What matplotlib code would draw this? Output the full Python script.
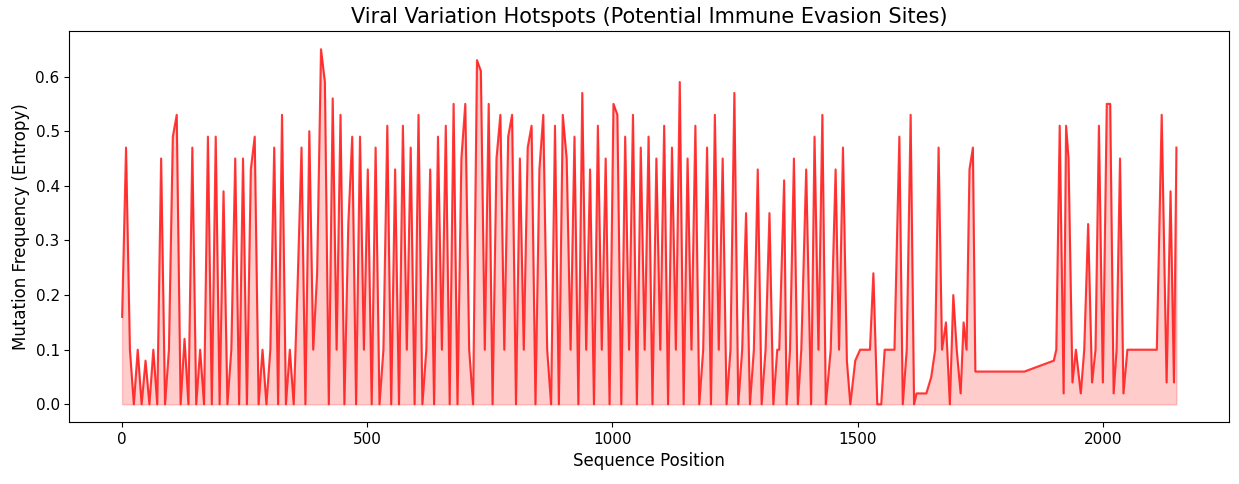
import numpy as np
import matplotlib
matplotlib.use("Agg")
import matplotlib.pyplot as plt

dense_vals = [0.16,0.47,0.1,0.0,0.1,0.0,0.08,0.0,0.1,0.0,0.45,0.0,0.1,0.49,0.53,0.0,0.12,0.0,0.47,0.0,
0.1,0.0,0.49,0.0,0.49,0.0,0.39,0.0,0.1,0.45,0.0,0.45,0.0,0.43,0.49,0.0,0.1,0.0,0.1,0.47,
0.0,0.53,0.0,0.1,0.0,0.22,0.47,0.0,0.5,0.1,0.24,0.65,0.59,0.0,0.56,0.1,0.53,0.0,0.33,0.49,
0.0,0.49,0.1,0.43,0.0,0.47,0.0,0.1,0.51,0.0,0.43,0.0,0.51,0.1,0.47,0.0,0.53,0.0,0.1,0.43,
0.0,0.49,0.1,0.51,0.0,0.55,0.0,0.45,0.55,0.1,0.0,0.63,0.61,0.1,0.55,0.0,0.45,0.53,0.1,0.49,
0.53,0.0,0.45,0.1,0.47,0.51,0.0,0.43,0.53,0.1,0.0,0.51,0.0,0.53,0.45,0.1,0.49,0.0,0.57,0.1,
0.43,0.0,0.51,0.1,0.45,0.0,0.55,0.53,0.0,0.49,0.1,0.53,0.0,0.47,0.1,0.49,0.0,0.45,0.1,0.51,
0.0,0.47,0.1,0.59,0.0,0.45,0.1,0.51,0.0,0.1,0.47,0.0,0.53,0.1,0.45,0.0,0.1,0.57,0.0,0.1,
0.35,0.0,0.1,0.43,0.0,0.1,0.35,0.0,0.1]
sparse_pos = [1340,1350,1355,1362,1370,1378,1385,1395,1405,1412,1420,1428,1435,1445,1455,1462,1470,1478,1485,1495,
1505,1515,1525,1532,1540,1548,1555,1565,1575,1585,1592,1600,1608,1615,1620,1640,1650,1658,1665,1672,
1680,1688,1695,1702,1710,1716,1722,1728,1735,1740,1840,1900,1905,1912,1920,1925,1930,1938,1945,1955,
1962,1970,1978,1985,1992,2000,2008,2015,2022,2028,2035,2042,2050,2060,2070,2080,2090,2100,2110,2120,2130,2138,2145,2150]
sparse_vals = [0.1,0.41,0.0,0.1,0.45,0.0,0.1,0.43,0.0,0.49,0.1,0.53,0.0,0.1,0.43,0.1,0.47,0.08,0.0,0.08,
0.1,0.1,0.1,0.24,0.0,0.0,0.1,0.1,0.1,0.49,0.0,0.1,0.53,0.0,0.02,0.02,0.05,0.1,0.47,0.1,
0.15,0.0,0.2,0.1,0.02,0.15,0.1,0.43,0.47,0.06,0.06,0.08,0.1,0.51,0.02,0.51,0.45,0.04,0.1,0.02,
0.1,0.33,0.04,0.1,0.51,0.04,0.55,0.55,0.02,0.1,0.45,0.02,0.1,0.1,0.1,0.1,0.1,0.1,0.1,0.53,0.04,0.39,0.04,0.47]

x = np.concatenate([np.linspace(0, 1336, len(dense_vals)), sparse_pos])
y = np.concatenate([dense_vals, sparse_vals])

fig, ax = plt.subplots(figsize=(12.39, 4.84), dpi=100)
ax.plot(x, y, color='red', alpha=0.75, linewidth=1.5)
ax.fill_between(x, y, color='red', alpha=0.2)
ax.set_title('Viral Variation Hotspots (Potential Immune Evasion Sites)', fontsize=15)
ax.set_xlabel('Sequence Position', fontsize=12)
ax.set_ylabel('Mutation Frequency (Entropy)', fontsize=12)
ax.tick_params(labelsize=11)
fig.subplots_adjust(left=0.056, right=0.992, top=0.935, bottom=0.128)
fig.savefig('out.png')
